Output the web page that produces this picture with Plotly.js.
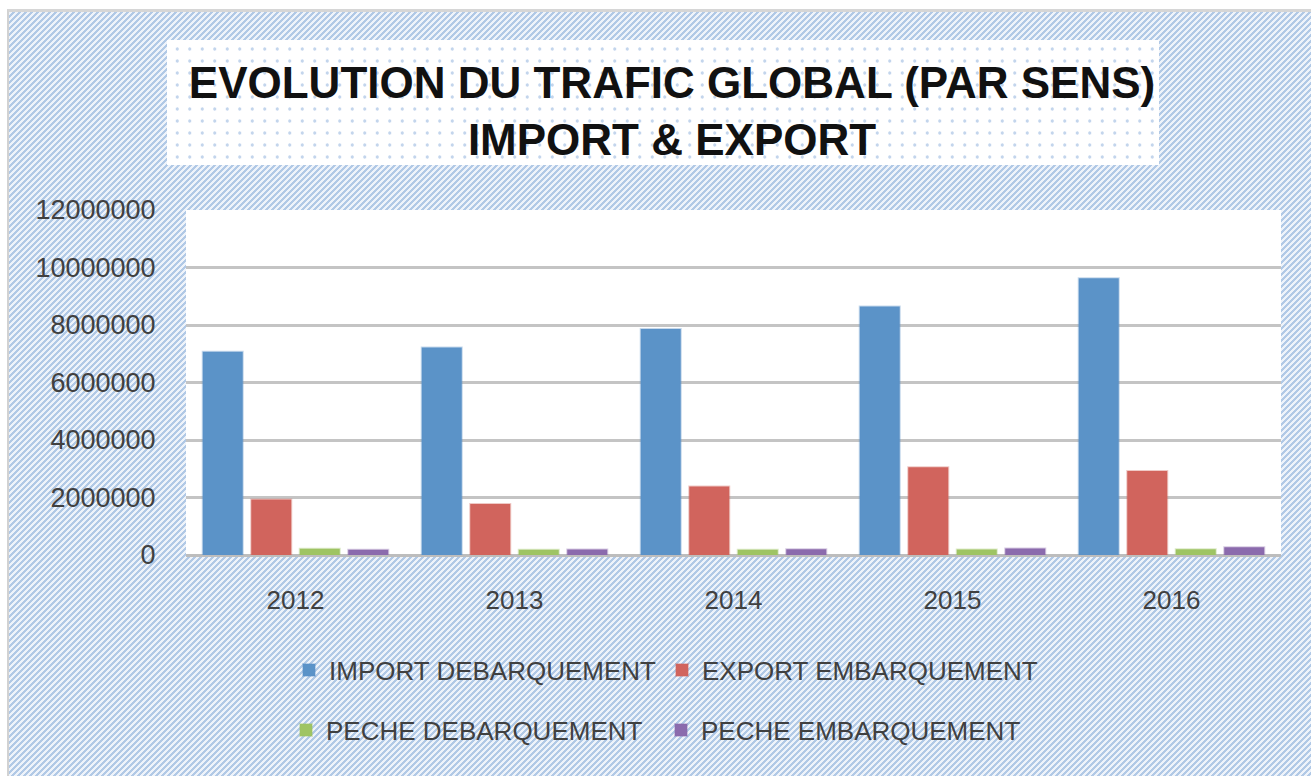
<!DOCTYPE html>
<html>
<head>
<meta charset="utf-8">
<script src="https://cdn.plot.ly/plotly-3.0.1.min.js"></script>
<style>
  html, body { margin: 0; padding: 0; background: #ffffff; }
  #wrap { position: relative; width: 1311px; height: 776px; overflow: hidden; }
  #hatch {
    position: absolute; left: 7px; top: 9px; right: -10px; bottom: -10px;
    border-left: 2px solid #d2d2d2; border-top: 3px solid #d6d6d6;
    background-color: #eef3fa;
    background-image: linear-gradient(-45deg, #b1c9e6 25%, #eef3fa 25%, #eef3fa 50%, #b1c9e6 50%, #b1c9e6 75%, #eef3fa 75%, #eef3fa 100%);
    background-size: 6px 6px;
  }
  #titlebox {
    position: absolute; left: 167px; top: 40px; width: 992px; height: 125px;
    background-color: #ffffff;
    background-image: radial-gradient(circle, #c3d5ec 1.4px, rgba(255,255,255,0) 1.9px);
    background-size: 12.5px 12px;
    background-position: 4px 3px;
  }
  #chart { position: absolute; left: 0; top: 0; width: 1311px; height: 776px; }
</style>
</head>
<body>
<div id="wrap">
  <div id="hatch"></div>
  <div id="titlebox"></div>
  <div id="chart"></div>
</div>
<script>
// ---- data ----
const years = ["2012", "2013", "2014", "2015", "2016"];
const importDebarquement = [7070000, 7220000, 7860000, 8640000, 9630000];
const exportEmbarquement = [1930000, 1770000, 2380000, 3050000, 2920000];
const pecheDebarquement = [220000, 180000, 180000, 190000, 200000];
const pecheEmbarquement = [180000, 190000, 200000, 230000, 270000];
const seriesNames = ["IMPORT DEBARQUEMENT", "EXPORT EMBARQUEMENT", "PECHE DEBARQUEMENT", "PECHE EMBARQUEMENT"];
const yTicks = [0, 2000000, 4000000, 6000000, 8000000, 10000000, 12000000];
const titleLines = ["EVOLUTION DU TRAFIC GLOBAL (PAR SENS)", "IMPORT & EXPORT"];

// ---- styles ----
const colors = ["#5b93c8", "#d1645d", "#9fc463", "#8b6bad"];
const outline = ["rgba(91,147,200,0.35)", "rgba(209,100,93,0.35)", "rgba(159,196,99,0.35)", "rgba(139,107,173,0.35)"];
const font = "Liberation Sans, Arial, sans-serif";
const allValues = [importDebarquement, exportEmbarquement, pecheDebarquement, pecheEmbarquement];
const legendIds = ["legend", "legend2", "legend3", "legend4"];

const traces = allValues.map((vals, i) => ({
  type: "bar",
  name: seriesNames[i],
  x: years,
  y: vals,
  marker: { color: colors[i], line: { color: outline[i], width: 2 } },
  legend: legendIds[i],
  hoverinfo: "x+y+name"
}));

const W = 1311, H = 776;
const legendPos = [[289, 670], [662, 670], [286, 730], [661, 730]];
const legendCommon = {
  orientation: "h",
  xref: "container", yref: "container",
  xanchor: "left", yanchor: "middle",
  bgcolor: "rgba(0,0,0,0)",
  borderwidth: 0,
  font: { family: font, size: 26, color: "#404040" }
};

const layout = {
  width: W, height: H,
  paper_bgcolor: "rgba(0,0,0,0)",
  plot_bgcolor: "#ffffff",
  margin: { l: 186, r: 30, t: 210, b: 221, pad: 0 },
  title: {
    text: "<b>" + titleLines.join("<br>") + "</b>",
    xref: "container", yref: "container",
    x: 672 / W, xanchor: "center",
    y: 1 - 98 / H, yanchor: "top",
    font: { family: font, size: 44, color: "#111111" }
  },
  barmode: "group",
  bargap: 0.114,
  bargroupgap: 0.175,
  xaxis: {
    type: "category",
    showgrid: false,
    showline: false,
    zeroline: false,
    ticks: "outside", ticklen: 22, tickcolor: "rgba(0,0,0,0)",
    tickfont: { family: font, size: 26, color: "#404040" },
    fixedrange: true
  },
  yaxis: {
    range: [0, 12000000],
    tickvals: yTicks,
    ticktext: yTicks.map(v => String(v)),
    showgrid: true,
    gridcolor: "#c4c4c4",
    gridwidth: 3,
    zeroline: true,
    zerolinecolor: "#bdbdbd",
    zerolinewidth: 3,
    showline: false,
    ticks: "outside", ticklen: 24, tickcolor: "rgba(0,0,0,0)",
    tickfont: { family: font, size: 27, color: "#404040" },
    fixedrange: true
  },
  showlegend: true
};
legendIds.forEach((id, i) => {
  layout[id] = Object.assign({}, legendCommon, {
    x: legendPos[i][0] / W,
    y: 1 - legendPos[i][1] / H
  });
});

Plotly.newPlot("chart", traces, layout, { displayModeBar: false, staticPlot: true });
</script>
</body>
</html>
